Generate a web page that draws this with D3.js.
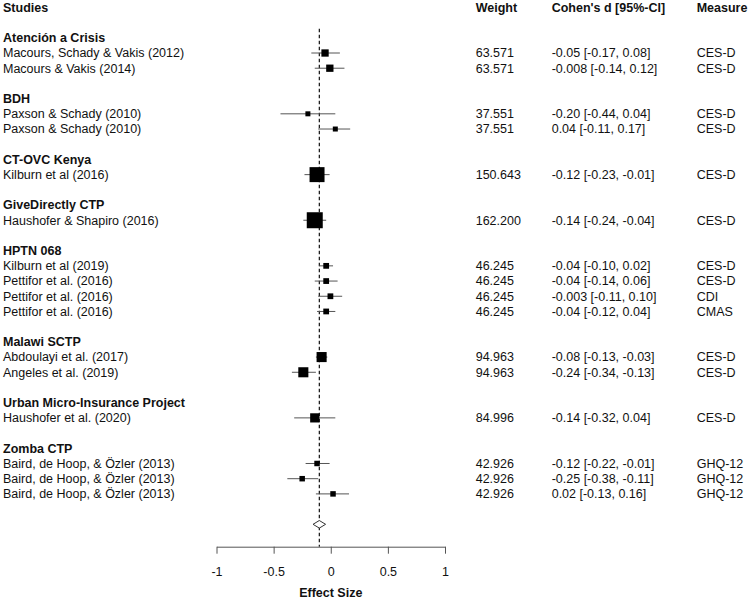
<!DOCTYPE html>
<html>
<head>
<meta charset="utf-8">
<script src="https://cdn.jsdelivr.net/npm/d3@7"></script>
<style>
  body { margin: 0; background: #fff; }
  svg { font-family: "Liberation Sans", Arial, sans-serif; }
</style>
</head>
<body>
<div class="forest"></div>
<script>
const width = 750;
const height = 600;

const groups = ['Atención a Crisis', 'BDH', 'CT-OVC Kenya', 'GiveDirectly CTP', 'HPTN 068',
  'Malawi SCTP', 'Urban Micro-Insurance Project', 'Zomba CTP'];
const studyGroup = [0, 0, 1, 1, 2, 3, 4, 4, 4, 4, 5, 5, 6, 7, 7, 7];
const studies = [
  'Macours, Schady & Vakis (2012)', 'Macours & Vakis (2014)',
  'Paxson & Schady (2010)', 'Paxson & Schady (2010)',
  'Kilburn et al (2016)',
  'Haushofer & Shapiro (2016)',
  'Kilburn et al (2019)', 'Pettifor et al. (2016)', 'Pettifor et al. (2016)', 'Pettifor et al. (2016)',
  'Abdoulayi et al. (2017)', 'Angeles et al. (2019)',
  'Haushofer et al. (2020)',
  'Baird, de Hoop, & Özler (2013)', 'Baird, de Hoop, & Özler (2013)', 'Baird, de Hoop, & Özler (2013)'
];
const weights = ['63.571', '63.571', '37.551', '37.551', '150.643', '162.200', '46.245', '46.245',
  '46.245', '46.245', '94.963', '94.963', '84.996', '42.926', '42.926', '42.926'];
const effects = [-0.05, -0.008, -0.20, 0.04, -0.12, -0.14, -0.04, -0.04, -0.003, -0.04, -0.08, -0.24, -0.14, -0.12, -0.25, 0.02];
const ciLower = [-0.17, -0.14, -0.44, -0.11, -0.23, -0.24, -0.10, -0.14, -0.11, -0.12, -0.13, -0.34, -0.32, -0.22, -0.38, -0.13];
const ciUpper = [0.08, 0.12, 0.04, 0.17, -0.01, -0.04, 0.02, 0.06, 0.10, 0.04, -0.03, -0.13, 0.04, -0.01, -0.11, 0.16];
const measures = ['CES-D', 'CES-D', 'CES-D', 'CES-D', 'CES-D', 'CES-D', 'CES-D', 'CES-D', 'CDI', 'CMAS',
  'CES-D', 'CES-D', 'CES-D', 'GHQ-12', 'GHQ-12', 'GHQ-12'];
const pooled = { est: -0.10, lo: -0.155, hi: -0.045 };
const xTicks = [-1, -0.5, 0, 0.5, 1];

// lay out rows: header, blank, then group title + its studies + blank
const rows = [];
let r = 2;
groups.forEach((g, gi) => {
  rows.push({ type: 'group', label: g, row: r++ });
  studies.forEach((s, i) => {
    if (studyGroup[i] === gi) rows.push({ type: 'study', i: i, row: r++ });
  });
  r++;
});
const summaryRow = r;

const y = d3.scaleLinear().domain([0, summaryRow]).range([7.4, 524.3]);
const x = d3.scaleLinear().domain([-1, 1]).range([216.5, 445]);
const wNum = weights.map(Number);
const size = d3.scaleLinear().domain([d3.min(wNum), d3.max(wNum)]).range([5, 16]);

const fmtD = v => (Math.abs(v) < 0.01 && v !== 0 ? v.toFixed(3) : v.toFixed(2));
const fmt2 = v => v.toFixed(2);

const svg = d3.select('.forest')
  .append('svg')
  .attr('width', width)
  .attr('height', height);

const fs = 12.5;
const cols = { study: 3, weight: 475.7, cohen: 551.7, measure: 696.7 };

// headers
const header = [['Studies', cols.study], ['Weight', cols.weight], ['Cohen\'s d [95%-CI]', cols.cohen], ['Measure', cols.measure]];
svg.selectAll('text.head')
  .data(header)
  .enter()
  .append('text')
  .attr('class', 'head')
  .attr('x', d => d[1])
  .attr('y', y(0))
  .attr('dy', '0.35em')
  .attr('font-size', fs)
  .attr('font-weight', 'bold')
  .attr('fill', '#111')
  .text(d => d[0]);

// reference dashed line
svg.append('line')
  .attr('x1', x(pooled.est)).attr('x2', x(pooled.est))
  .attr('y1', y(1.4)).attr('y2', 546.7)
  .attr('stroke', '#111')
  .attr('stroke-width', 1.2)
  .attr('stroke-dasharray', '3.5,2.5');

// left column labels
svg.selectAll('text.label')
  .data(rows)
  .enter()
  .append('text')
  .attr('class', 'label')
  .attr('x', cols.study)
  .attr('y', d => y(d.row))
  .attr('dy', '0.35em')
  .attr('font-size', fs)
  .attr('font-weight', d => d.type === 'group' ? 'bold' : 'normal')
  .attr('fill', '#111')
  .text(d => d.type === 'group' ? d.label : studies[d.i]);

const studyRows = rows.filter(d => d.type === 'study');

// CI lines
svg.selectAll('line.ci')
  .data(studyRows)
  .enter()
  .append('line')
  .attr('class', 'ci')
  .attr('x1', d => x(ciLower[d.i]))
  .attr('x2', d => x(ciUpper[d.i]))
  .attr('y1', d => y(d.row))
  .attr('y2', d => y(d.row))
  .attr('stroke', '#555')
  .attr('stroke-width', 1);

// squares
svg.selectAll('rect.pt')
  .data(studyRows)
  .enter()
  .append('rect')
  .attr('class', 'pt')
  .attr('x', d => x(effects[d.i]) - size(wNum[d.i]) / 2)
  .attr('y', d => y(d.row) - size(wNum[d.i]) / 2)
  .attr('width', d => size(wNum[d.i]))
  .attr('height', d => size(wNum[d.i]))
  .attr('fill', '#000');

// right columns
const cells = [];
studyRows.forEach(d => {
  const i = d.i;
  cells.push({ x: cols.weight, row: d.row, t: weights[i] });
  cells.push({ x: cols.cohen, row: d.row, t: fmtD(effects[i]) + ' [' + fmt2(ciLower[i]) + ', ' + fmt2(ciUpper[i]) + ']' });
  cells.push({ x: cols.measure, row: d.row, t: measures[i] });
});
svg.selectAll('text.cell')
  .data(cells)
  .enter()
  .append('text')
  .attr('class', 'cell')
  .attr('x', d => d.x)
  .attr('y', d => y(d.row))
  .attr('dy', '0.35em')
  .attr('font-size', fs)
  .attr('fill', '#111')
  .text(d => d.t);

// summary diamond
const yc = y(summaryRow);
const dh = 3.8;
svg.append('path')
  .attr('d', d3.line()([[x(pooled.lo), yc], [x(pooled.est), yc - dh], [x(pooled.hi), yc], [x(pooled.est), yc + dh]]) + 'Z')
  .attr('fill', '#fff')
  .attr('stroke', '#333')
  .attr('stroke-width', 1);

// axis
const axis = d3.axisBottom(x)
  .tickValues(xTicks)
  .tickFormat(d => String(d))
  .tickSize(7)
  .tickSizeOuter(0)
  .tickPadding(13.5);

const gAxis = svg.append('g')
  .attr('transform', 'translate(0,546.7)')
  .call(axis);
gAxis.select('.domain').attr('stroke', '#555');
gAxis.selectAll('.tick line').attr('stroke', '#555');
gAxis.selectAll('.tick text')
  .attr('font-size', fs)
  .attr('font-family', '"Liberation Sans", Arial, sans-serif')
  .attr('fill', '#111');

svg.append('text')
  .attr('x', x(0))
  .attr('y', 593)
  .attr('dy', '0.35em')
  .attr('text-anchor', 'middle')
  .attr('font-size', fs)
  .attr('font-weight', 'bold')
  .attr('fill', '#111')
  .text('Effect Size');
</script>
</body>
</html>
